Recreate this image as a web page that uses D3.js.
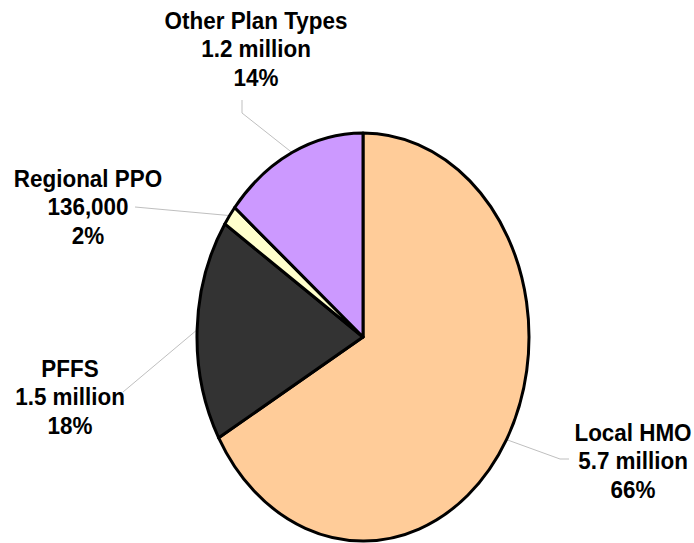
<!DOCTYPE html>
<html>
<head>
<meta charset="utf-8">
<script src="https://cdn.jsdelivr.net/npm/d3@7/dist/d3.min.js"></script>
<style>
  html, body { margin: 0; padding: 0; background: #fff; }
  svg { display: block; }
</style>
</head>
<body>
<div id="chart"></div>
<script>
// data
var names = ["Local HMO", "PFFS", "Regional PPO", "Other Plan Types"];
var amounts = [5.7, 1.5, 0.136, 1.2];           // millions of enrollees
var amountLabels = ["5.7 million", "1.5 million", "136,000", "1.2 million"];
var shareLabels = ["66%", "18%", "2%", "14%"];
var colors = ["#FFCC99", "#333333", "#FFFFCC", "#CC99FF"];

// layout
var W = 694, H = 543;
var cx = 363, cy = 337, rx = 166, ry = 204;
var R = 100;
var lineH = 28.5;
var squeeze = 0.935;   // text in the original is a bit narrow
// label text centre x / first baseline, and leader start + optional elbow
var labelPos = {
  "Local HMO":        { x: 633, y: 441, start: [569, 459], elbow: [560, 459] },
  "PFFS":             { x: 70,  y: 377, start: [123, 392], elbow: null },
  "Regional PPO":     { x: 88,  y: 187, start: [135, 207], elbow: null },
  "Other Plan Types": { x: 256, y: 29,  start: [242, 100], elbow: [242, 113] }
};

var rows = names.map(function(n, i) {
  return { name: n, value: amounts[i], amt: amountLabels[i], pct: shareLabels[i], color: colors[i] };
});

var svg = d3.select("#chart").append("svg")
  .attr("width", W)
  .attr("height", H);

var pie = d3.pie().sort(null).value(function(d) { return d.value; });
var arcs = pie(rows);
var arc = d3.arc().innerRadius(0).outerRadius(R);

// leader lines (drawn under the pie)
var leaders = svg.append("g")
  .attr("fill", "none")
  .attr("stroke", "#BFBFBF")
  .attr("stroke-width", 1);

arcs.forEach(function(a) {
  var p = labelPos[a.data.name];
  var mid = (a.startAngle + a.endAngle) / 2;
  var edge = [cx + rx * Math.sin(mid), cy - ry * Math.cos(mid)];
  var pts = [p.start];
  if (p.elbow) pts.push(p.elbow);
  pts.push(edge);
  leaders.append("path").attr("d", d3.line()(pts));
});

// pie, stretched to an ellipse
var g = svg.append("g")
  .attr("transform", "translate(" + cx + "," + cy + ") scale(" + (rx / R) + "," + (ry / R) + ")");

g.selectAll("path")
  .data(arcs)
  .join("path")
  .attr("d", arc)
  .attr("fill", function(d) { return d.data.color; })
  .attr("stroke", "#000")
  .attr("stroke-width", 3)
  .attr("stroke-linejoin", "round")
  .attr("vector-effect", "non-scaling-stroke");

// labels
var labels = svg.append("g")
  .style("font-family", "'Liberation Sans', Arial, sans-serif")
  .style("font-weight", "bold")
  .style("font-size", "24px")
  .attr("fill", "#000")
  .attr("text-anchor", "middle");

arcs.forEach(function(a) {
  var p = labelPos[a.data.name];
  var t = labels.append("g")
    .attr("transform", "translate(" + p.x + "," + p.y + ") scale(" + squeeze + ",1)")
    .append("text");
  [a.data.name, a.data.amt, a.data.pct].forEach(function(s, i) {
    t.append("tspan").attr("x", 0).attr("y", i * lineH).text(s);
  });
});
</script>
</body>
</html>
